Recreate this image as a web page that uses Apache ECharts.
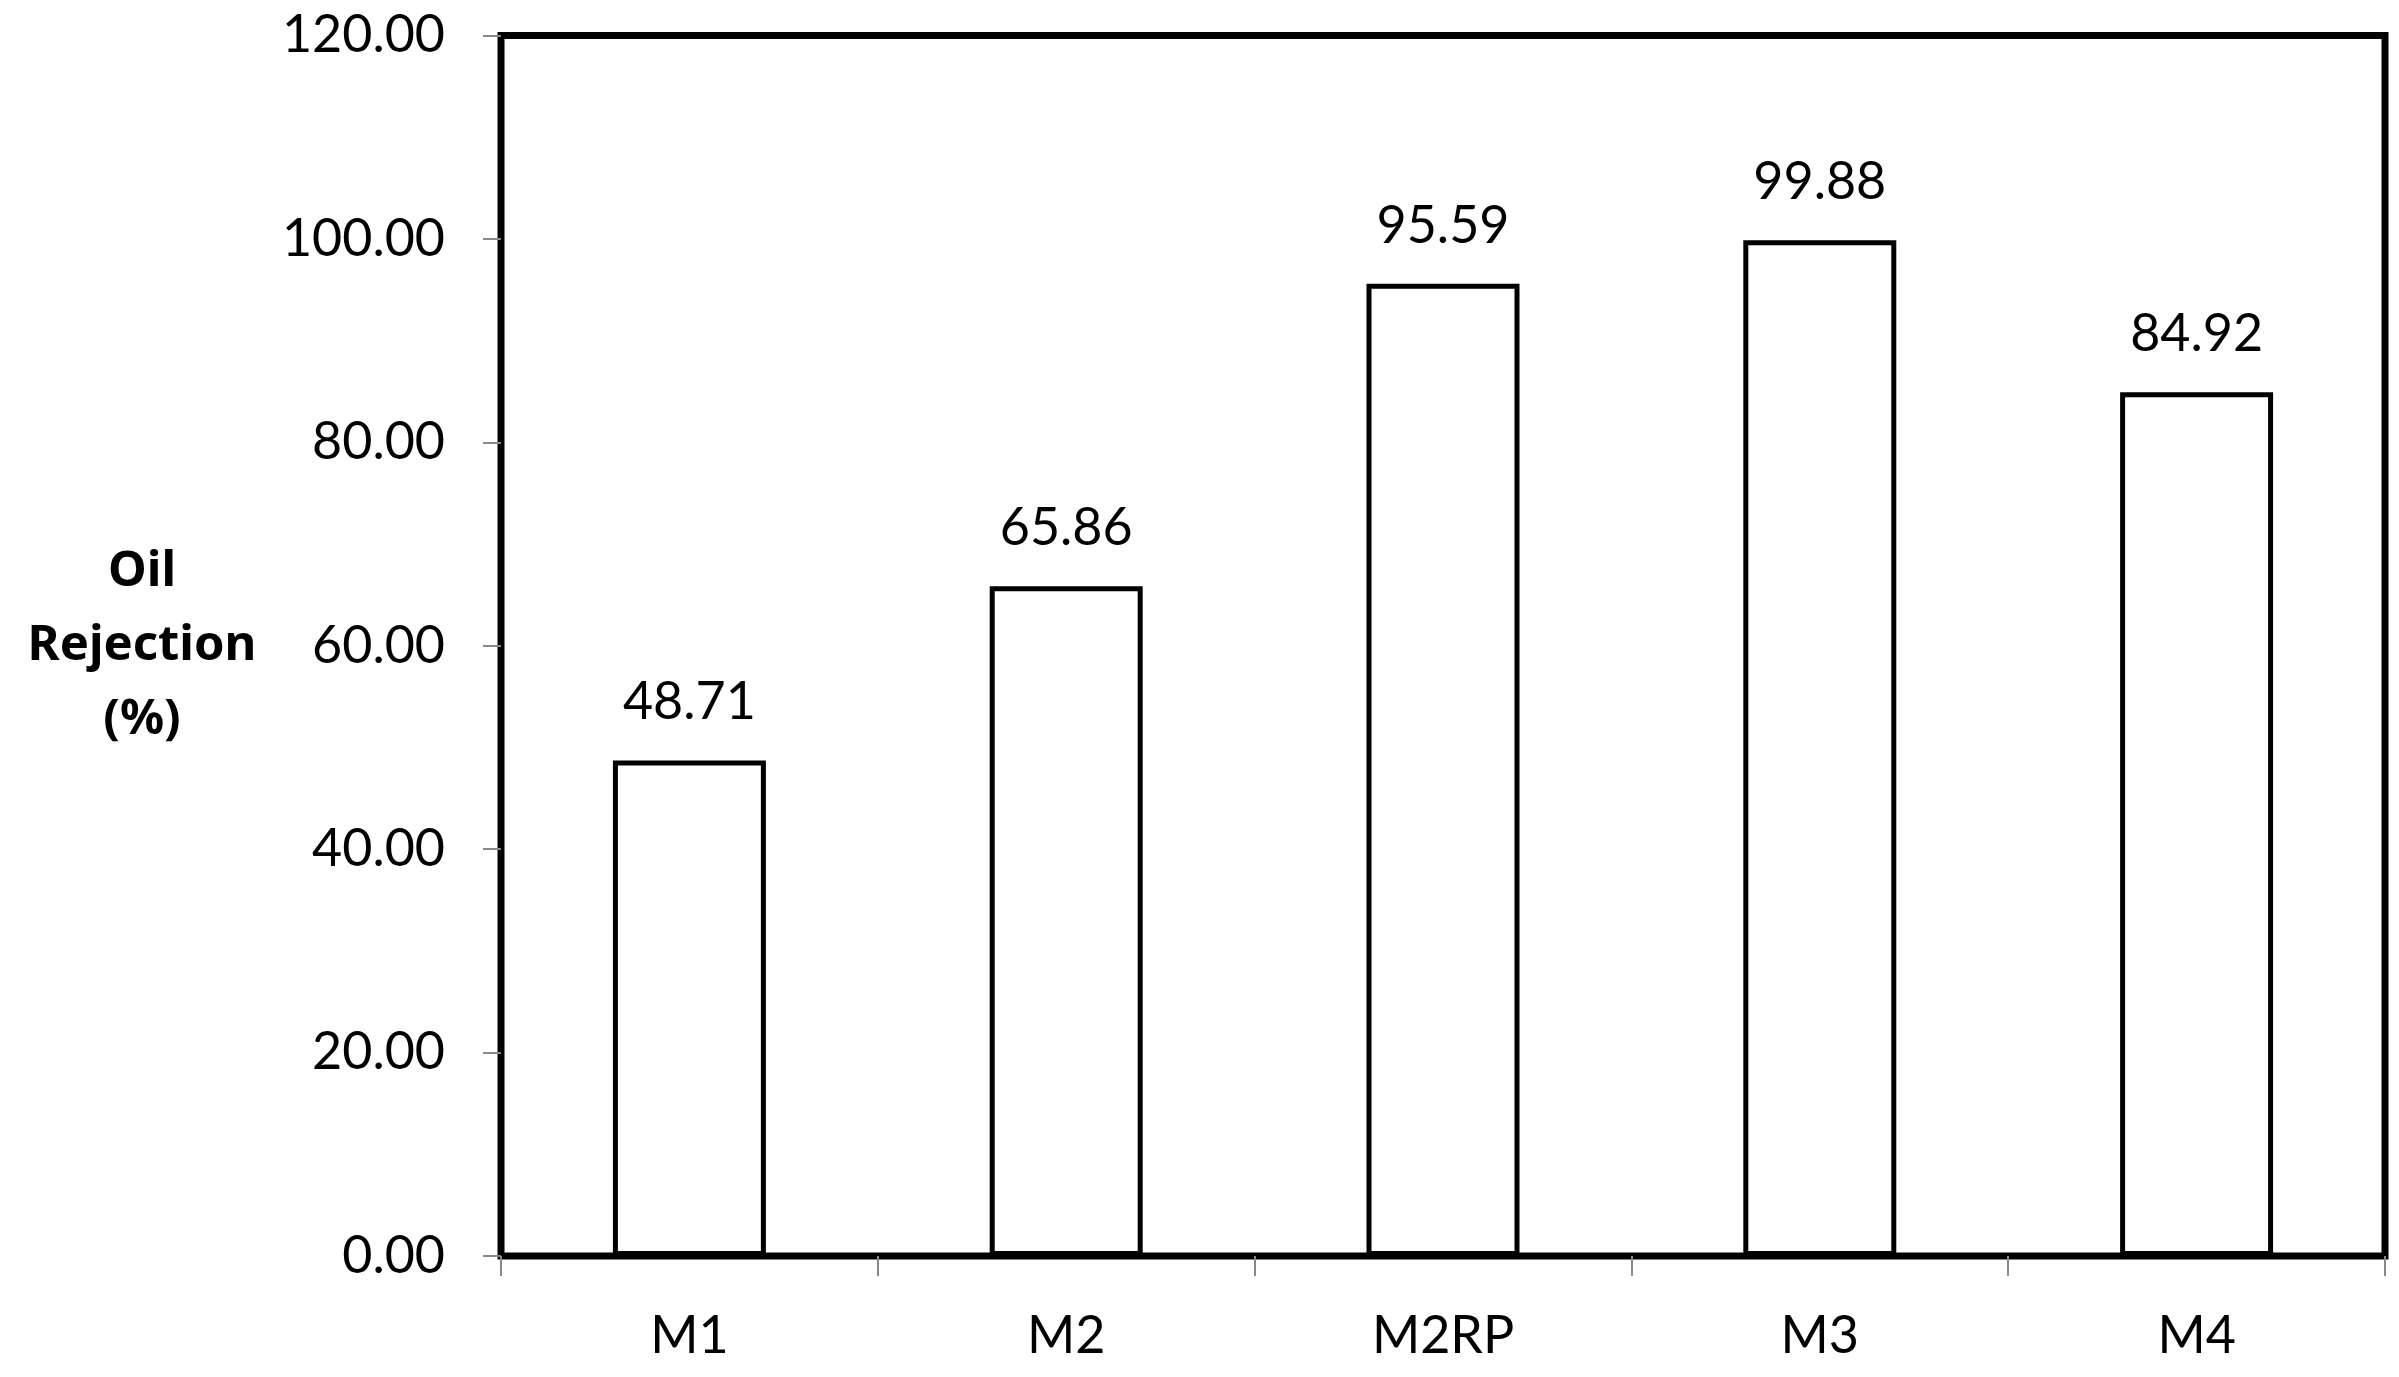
<!DOCTYPE html>
<html>
<head>
<meta charset="utf-8">
<script src="https://cdn.jsdelivr.net/npm/echarts@6/dist/echarts.min.js"></script>
<style>html,body{margin:0;padding:0;background:#fff;}#chart{width:2399px;height:1377px;}</style>
</head>
<body>
<div id="chart"></div>
<script>
const categories = ['M1', 'M2', 'M2RP', 'M3', 'M4'];
const rejection = [48.71, 65.86, 95.59, 99.88, 84.92];
const yTicks = [0, 20, 40, 60, 80, 100, 120];

const FONT = 'Lato';
const chart = echarts.init(document.getElementById('chart'), null, {renderer: 'canvas'});
chart.setOption({
  backgroundColor: '#ffffff',
  animation: false,
  grid: {
    left: 501, right: 14, top: 35.5, bottom: 121,
    show: true, borderColor: '#000', borderWidth: 7, backgroundColor: 'transparent'
  },
  xAxis: {
    type: 'category',
    data: categories,
    boundaryGap: true,
    axisLine: {show: true, lineStyle: {color: '#000', width: 5}},
    axisTick: {show: true, alignWithLabel: false, length: 20, lineStyle: {color: '#888', width: 2}},
    axisLabel: {margin: 54, fontFamily: FONT, fontSize: 52, color: '#000'},
    splitLine: {show: false}
  },
  yAxis: {
    type: 'value',
    min: yTicks[0], max: yTicks[yTicks.length - 1], interval: 20,
    name: 'Oil\nRejection\n(%)',
    nameLocation: 'middle',
    nameRotate: 0,
    nameGap: 359,
    nameTextStyle: {fontFamily: 'Noto Sans', fontSize: 49, fontWeight: 'bold', color: '#000', lineHeight: 74, align: 'center'},
    axisLine: {show: true, lineStyle: {color: '#000', width: 5}},
    axisTick: {show: true, length: 18, lineStyle: {color: '#888', width: 2}},
    axisLabel: {margin: 56, fontFamily: FONT, fontSize: 52, color: '#000',
      formatter: v => v.toFixed(2)},
    splitLine: {show: false}
  },
  series: [{
    type: 'bar',
    data: rejection,
    barWidth: '40.6%',
    itemStyle: {color: '#fff', borderColor: '#000', borderWidth: 5},
    label: {show: true, position: 'top', distance: 32, fontFamily: FONT, fontSize: 52, color: '#000',
      formatter: p => p.value.toFixed(2)}
  }]
});
</script>
</body>
</html>
